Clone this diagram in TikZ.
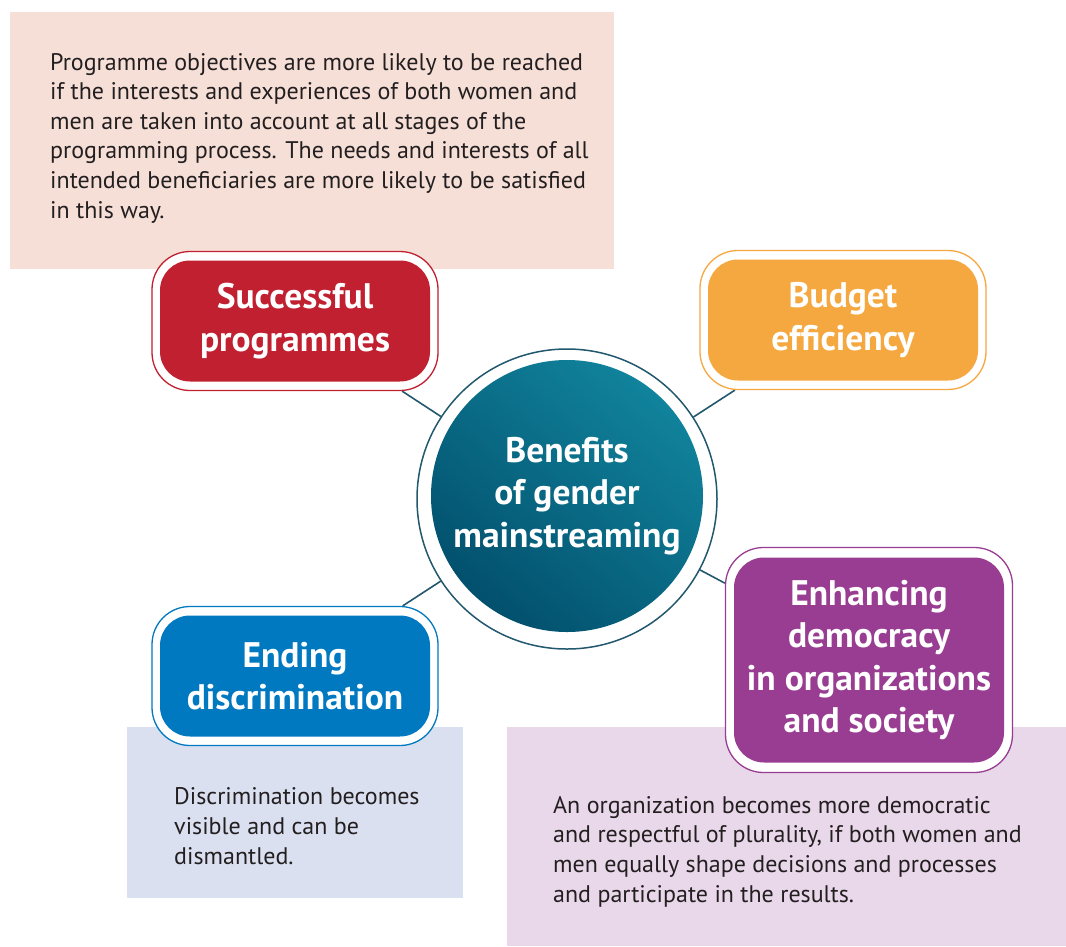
\documentclass[tikz,border=0pt]{standalone}
\usepackage{fontspec}
\setmainfont{PT Sans}
\usetikzlibrary{backgrounds}
\definecolor{pinkbg}{HTML}{F6DFD7}
\definecolor{bluebg}{HTML}{DBE0F1}
\definecolor{lilacbg}{HTML}{E9D8EA}
\definecolor{cred}{HTML}{C0202F}
\definecolor{corange}{HTML}{F5A840}
\definecolor{cblue}{HTML}{0079C1}
\definecolor{cpurple}{HTML}{983D92}
\definecolor{tealline}{HTML}{22586E}
\definecolor{teallight}{HTML}{11839C}
\definecolor{tealdark}{HTML}{02506D}
\definecolor{bodytext}{HTML}{231F20}
\tikzset{
  outerbox/.style={draw=#1, fill=white, line width=1.3pt, rounded corners=38pt,
    minimum width=286pt, minimum height=139pt, inner sep=0pt},
  innerbox/.style={fill=#1, rounded corners=30pt, text=white,
    minimum width=270pt, minimum height=121pt, inner sep=0pt, align=center,
    font=\fontsize{35.5}{42.5}\selectfont\bfseries},
  bodytxt/.style={anchor=base west, inner sep=0pt, align=left, text=bodytext,
    font=\fontsize{24}{29.6}\selectfont},
  link/.style={draw=tealline, line width=1.6pt}
}
\begin{document}
\begin{tikzpicture}[x=1pt,y=-1pt]
\useasboundingbox (0,0) rectangle (1066,946);
% centre
\node[circle, draw=tealline, fill=white, line width=1.5pt, minimum size=300pt, inner sep=0pt] (cring) at (567,499) {};
\node[circle, minimum size=272pt, inner sep=0pt, shading=axis, top color=teallight, bottom color=tealdark, shading angle=-40,
  text=white, align=center, font=\fontsize{35.5}{42.5}\selectfont\bfseries] (c) at (567,496) {Benefits\\of gender\\mainstreaming};
% boxes
\node[outerbox=cred] (spo) at (295,321) {};
\node[innerbox=cred] (sp) at (295,321) {Successful\\programmes};
\node[outerbox=corange] (beo) at (843,320) {};
\node[innerbox=corange] (be) at (843,320) {Budget\\efficiency};
\node[outerbox=cblue] (edo) at (295,676) {};
\node[innerbox=cblue] (ed) at (295,676) {Ending\\discrimination};
\node[outerbox=cpurple, minimum width=287pt, minimum height=225pt] (eho) at (869,660) {};
\node[innerbox=cpurple, minimum height=205pt] (eh) at (869,660) {Enhancing\\democracy\\in organizations\\and society};
% panels and connectors behind
\begin{scope}[on background layer]
\fill[white] (0,0) rectangle (1066,946);
\fill[pinkbg] (10,12) rectangle (614,269);
\fill[bluebg] (127,727) rectangle (463,898);
\fill[lilacbg] (507,727) rectangle (1066,946);
\draw[link] (cring) -- (spo);
\draw[link] (cring) -- (beo);
\draw[link] (cring) -- (edo);
\draw[link] (cring) -- (eho);
\end{scope}
% body texts (anchored at the baseline of their last line)
\node[bodytxt] (t1) at (50,218) {Programme objectives are more likely to be reached\\if the interests and experiences of both women and\\men are taken into account at all stages of the\\programming process. The needs and interests of all\\intended beneficiaries are more likely to be satisfied\\in this way.};
\node[bodytxt] (t2) at (174,864) {Discrimination becomes\\visible and can be\\dismantled.};
\node[bodytxt] (t3) at (553,902) {An organization becomes more democratic\\and respectful of plurality, if both women and\\men equally shape decisions and processes\\and participate in the results.};
\end{tikzpicture}
\end{document}
